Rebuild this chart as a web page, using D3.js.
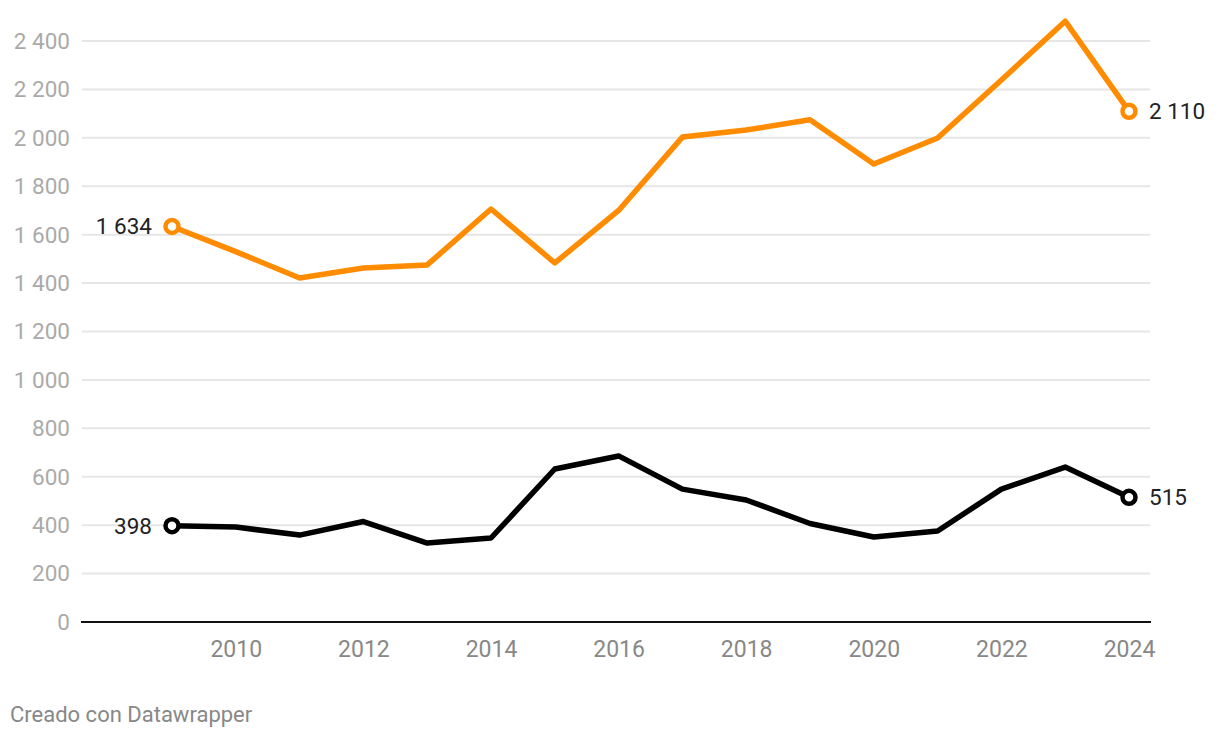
<!DOCTYPE html>
<html lang="es">
  <head>
    <meta charset="UTF-8" />
    <title>Serie anual</title>
    <script src="https://d3js.org/d3.v7.min.js"></script>
    <style>
      body { margin: 0; background: #fff; font-family: Roboto, "Noto Sans", sans-serif; }
      .grid line { stroke: #e6e6e6; stroke-width: 2px; }
      .y-axis text { fill: #aaa; font-size: 22.5px; }
      .x-axis text { fill: #888; font-size: 23px; font-family: Roboto, sans-serif; }
      .val { font-size: 22.5px; fill: #222; }
      .footer { font-size: 22px; fill: #888; }
    </style>
  </head>
  <body>
    <svg width="1220" height="738"></svg>
    <script>
      const width = 1220;
      const height = 738;

      // datos
      const years = [2009, 2010, 2011, 2012, 2013, 2014, 2015, 2016, 2017, 2018, 2019, 2020, 2021, 2022, 2023, 2024];
      const orangeValues = [1634, 1530, 1421, 1462, 1475, 1706, 1483, 1700, 2003, 2032, 2075, 1892, 1999, 2239, 2482, 2110];
      const blackValues = [398, 392, 359, 415, 326, 347, 632, 686, 549, 504, 407, 351, 376, 549, 640, 515];
      const yTicks = [0, 200, 400, 600, 800, 1000, 1200, 1400, 1600, 1800, 2000, 2200, 2400];
      const xTicks = [2010, 2012, 2014, 2016, 2018, 2020, 2022, 2024];

      const svg = d3.select("svg").attr("width", width).attr("height", height);

      const x = d3.scaleLinear().domain([2009, 2024]).range([172, 1129]);
      const y = d3.scaleLinear().domain([0, 2400]).range([622, 41]);

      // separador de miles con espacio
      const fmt = (v) => d3.format(",")(v).replace(/,/g, " ");

      // rejilla
      svg.append("g")
        .attr("class", "grid")
        .selectAll("line")
        .data(yTicks.filter((d) => d > 0))
        .enter()
        .append("line")
        .attr("x1", 82)
        .attr("x2", 1150)
        .attr("y1", (d) => y(d))
        .attr("y2", (d) => y(d));

      // eje y
      svg.append("g")
        .attr("class", "y-axis")
        .selectAll("text")
        .data(yTicks)
        .enter()
        .append("text")
        .attr("x", 70)
        .attr("y", (d) => y(d))
        .attr("dy", "0.35em")
        .attr("text-anchor", "end")
        .text(fmt);

      // linea base
      svg.append("line")
        .attr("x1", 81)
        .attr("x2", 1151)
        .attr("y1", y(0))
        .attr("y2", y(0))
        .attr("stroke", "#111")
        .attr("stroke-width", 2);

      // eje x
      svg.append("g")
        .attr("class", "x-axis")
        .attr("transform", `translate(0, ${y(0)})`)
        .call(d3.axisBottom(x).tickValues(xTicks).tickFormat(d3.format("d")).tickSize(0).tickPadding(19))
        .call((g) => g.select(".domain").remove());

      const line = d3.line()
        .x((d, i) => x(years[i]))
        .y((d) => y(d));

      const series = [
        { values: orangeValues, color: "#ff8c00" },
        { values: blackValues, color: "#000" }
      ];

      series.forEach((s) => {
        svg.append("path")
          .datum(s.values)
          .attr("fill", "none")
          .attr("stroke", s.color)
          .attr("stroke-width", 5.5)
          .attr("stroke-linejoin", "round")
          .attr("d", line);

        const ends = [0, s.values.length - 1];
        svg.selectAll(null)
          .data(ends)
          .enter()
          .append("circle")
          .attr("cx", (i) => x(years[i]))
          .attr("cy", (i) => y(s.values[i]))
          .attr("r", 6.5)
          .attr("fill", "#fff")
          .attr("stroke", s.color)
          .attr("stroke-width", 4.5);

        svg.selectAll(null)
          .data(ends)
          .enter()
          .append("text")
          .attr("class", "val")
          .attr("x", (i) => x(years[i]) + (i === 0 ? -20 : 20))
          .attr("y", (i) => y(s.values[i]))
          .attr("dy", "0.35em")
          .attr("text-anchor", (i) => (i === 0 ? "end" : "start"))
          .text((i) => fmt(s.values[i]));
      });

      svg.append("text")
        .attr("class", "footer")
        .attr("x", 10)
        .attr("y", 722)
        .text("Creado con Datawrapper");
    </script>
  </body>
</html>
